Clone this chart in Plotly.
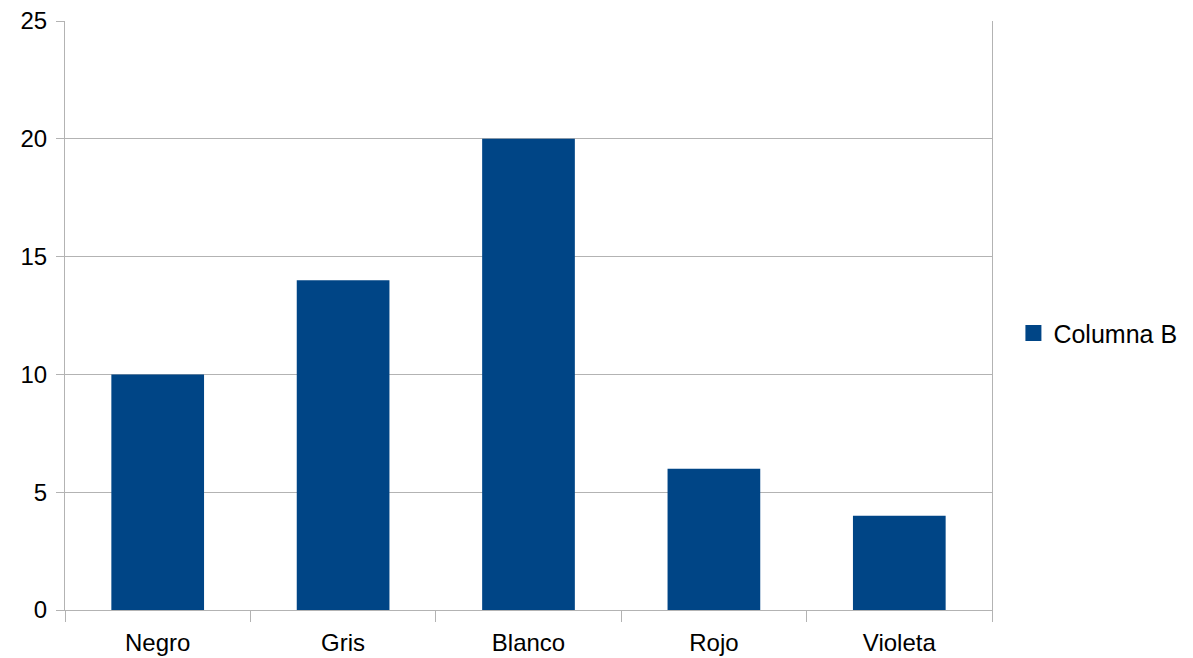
import plotly.graph_objects as go

categories = ["Negro", "Gris", "Blanco", "Rojo", "Violeta"]
values = [10, 14, 20, 6, 4]
series_name = "Columna B"
y_ticks = [0, 5, 10, 15, 20, 25]

grid = "#b3b3b3"
bar_color = "#004586"
font = "Liberation Sans, Arial, sans-serif"

fig = go.Figure()
fig.add_trace(go.Bar(x=categories, y=values, name=series_name,
                     marker=dict(color=bar_color, line=dict(width=0)),
                     width=0.5, showlegend=False))
# legend entry with a larger square swatch
fig.add_trace(go.Scatter(x=[None], y=[None], mode="markers", name=series_name,
                         marker=dict(symbol="square", size=16, color=bar_color),
                         showlegend=True, hoverinfo="skip"))

fig.update_layout(
    width=1193, height=658,
    margin=dict(l=65, r=200, t=21, b=48, pad=0),
    paper_bgcolor="white", plot_bgcolor="white",
    font=dict(family=font, size=24, color="black"),
    bargap=0.5,
    showlegend=True,
    legend=dict(x=1.022, y=0.47, xanchor="left", yanchor="middle",
                font=dict(size=25), itemwidth=30, bgcolor="rgba(0,0,0,0)"),
    xaxis=dict(type="category", tickson="boundaries", ticks="outside",
               ticklen=11, tickcolor=grid, showgrid=False, showline=True,
               linecolor=grid, linewidth=1, zeroline=False, automargin=False,
               ticklabelstandoff=11, tickfont=dict(size=24)),
    yaxis=dict(range=[0, 25], tickvals=y_ticks, ticks="outside", ticklen=8,
               tickcolor=grid, showgrid=True, gridcolor=grid, gridwidth=1,
               showline=True, linecolor=grid, mirror=True, zeroline=False,
               automargin=False, ticklabelstandoff=4, tickfont=dict(size=24)),
)

fig.write_html("out.html")
